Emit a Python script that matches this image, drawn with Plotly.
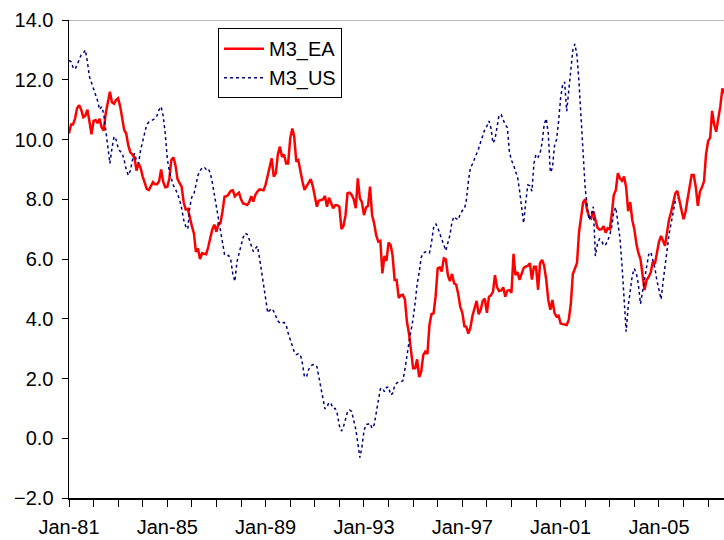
import pandas as pd
import plotly.graph_objects as go

# M3 growth, euro area (monthly, from Jan 1981)
ea_values = (
    [10.2, 10.5, 10.5, 10.7, 11.05, 11.15, 11.0, 10.75, 10.8, 11.0, 10.6, 10.17]      # 1981
    + [10.62, 10.65, 10.55, 10.69, 10.4, 10.3, 10.88, 11.2, 11.6, 11.25, 11.2, 11.32]  # 1982
    + [11.38, 11.1, 10.76, 10.32, 10.2, 9.8, 9.57, 9.5, 9.38, 8.96, 9.2, 9.05]        # 1983
    + [8.76, 8.52, 8.35, 8.31, 8.45, 8.57, 8.5, 8.5, 8.6, 9.0, 8.58, 8.4]             # 1984
    + [8.42, 8.7, 9.31, 9.4, 9.15, 8.68, 8.55, 8.42, 7.9, 7.66, 7.68, 7.35]           # 1985
    + [7.1, 6.85, 6.24, 6.35, 6.0, 6.19, 6.18, 6.16, 6.41, 6.75, 7.0, 7.15]           # 1986
    + [6.91, 7.2, 7.2, 7.6, 8.09, 8.1, 8.17, 8.28, 8.3, 8.1, 8.15, 8.22]              # 1987
    + [8.0, 7.86, 7.84, 7.81, 7.9, 8.1, 7.92, 8.15, 8.26, 8.33, 8.32, 8.3]            # 1988
    + [8.5, 8.78, 9.0, 9.37, 8.76, 8.87, 9.5, 9.76, 9.42, 9.5, 9.2, 9.2]              # 1989
    + [10.04, 10.37, 10.09, 9.26, 9.31, 8.9, 8.6, 8.31, 8.45, 8.55, 8.67, 8.45]       # 1990
    + [8.1, 7.75, 7.95, 7.97, 7.99, 8.11, 7.75, 8.05, 7.9, 7.7, 7.8, 7.8]             # 1991
    + [7.75, 7.0, 7.1, 7.45, 8.2, 8.22, 8.15, 8.0, 7.7, 8.7, 8.03, 7.9]               # 1992
    + [7.47, 7.73, 7.77, 8.42, 7.47, 7.19, 6.8, 6.58, 6.61, 5.52, 6.1, 5.94]          # 1993
    + [6.55, 6.47, 6.13, 5.3, 5.3, 4.7, 4.78, 4.8, 4.65, 3.9, 3.5, 3.0]               # 1994
    + [2.34, 2.34, 2.64, 2.05, 2.23, 2.79, 2.9, 2.82, 3.8, 4.16, 4.18, 4.74]          # 1995
    + [5.69, 5.72, 5.58, 6.02, 5.99, 5.45, 5.26, 5.5, 5.19, 5.14, 4.83, 4.4]          # 1996
    + [4.2, 3.75, 3.73, 3.5, 3.7, 4.1, 4.4, 4.6, 4.15, 4.3, 4.6, 4.67]                # 1997
    + [4.2, 4.74, 4.78, 4.9, 5.46, 5.05, 4.93, 4.95, 5.05, 4.74, 4.94, 4.96]          # 1998
    + [4.87, 6.17, 5.46, 5.56, 5.3, 5.55, 5.7, 5.75, 5.77, 5.86, 5.31, 5.74]          # 1999
    + [5.74, 4.97, 5.86, 5.97, 5.77, 5.3, 4.63, 4.3, 4.63, 4.2, 4.07, 4.1]            # 2000
    + [3.84, 3.82, 3.8, 3.79, 3.96, 4.5, 5.5, 5.66, 5.87, 6.9, 7.45, 7.9]             # 2001
    + [8.0, 7.6, 7.42, 7.36, 7.6, 7.3, 7.05, 6.98, 7.0, 7.1, 6.88, 7.03]              # 2002
    + [7.0, 7.53, 8.14, 8.3, 8.87, 8.7, 8.62, 8.76, 8.4, 7.6, 7.9, 7.3]               # 2003
    + [7.0, 6.5, 6.2, 6.0, 5.5, 4.96, 5.3, 5.4, 5.55, 5.9, 5.83, 6.2]                 # 2004
    + [6.58, 6.77, 6.58, 6.44, 6.9, 7.33, 7.58, 7.9, 8.2, 8.28, 8.0, 7.64]            # 2005
    + [7.33, 7.6, 8.0, 8.5, 8.81, 8.81, 8.42, 7.78, 8.25, 8.4, 8.6, 9.5]              # 2006
    + [9.95, 10.06, 10.96, 10.5, 10.26, 10.7, 11.1, 11.71, 11.55]                     # 2007
)

# M3 growth, United States (monthly, from Jan 1981)
us_values = (
    [12.65, 12.6, 12.42, 12.35, 12.5, 12.7, 12.83, 12.88, 13.0, 12.6, 12.1, 11.9]     # 1981
    + [11.7, 11.45, 11.3, 11.0, 11.1, 10.85, 10.3, 9.75, 9.2, 9.7, 10.1, 10.0]        # 1982
    + [9.72, 9.6, 9.55, 9.31, 9.0, 8.8, 8.95, 9.3, 9.54, 9.3, 9.2, 9.65]              # 1983
    + [9.95, 10.28, 10.5, 10.58, 10.62, 10.66, 10.7, 10.8, 11.0, 11.1, 10.78, 10.2]   # 1984
    + [9.35, 8.92, 8.72, 8.46, 8.35, 8.2, 8.0, 7.7, 7.31, 7.1, 7.0, 7.75]             # 1985
    + [8.08, 8.18, 8.5, 8.8, 8.95, 9.05, 9.08, 9.0, 9.03, 8.88, 8.55, 8.15]           # 1986
    + [7.83, 7.35, 7.05, 6.5, 6.15, 6.1, 6.12, 5.98, 5.5, 5.25, 5.9, 6.17]            # 1987
    + [6.5, 6.72, 6.86, 6.83, 6.66, 6.47, 6.25, 6.35, 6.43, 6.05, 5.6, 5.25]          # 1988
    + [4.8, 4.2, 4.28, 4.34, 4.25, 4.1, 3.93, 3.85, 3.85, 3.88, 3.8, 3.52]            # 1989
    + [3.32, 3.13, 2.9, 2.8, 2.83, 2.8, 2.5, 2.05, 2.06, 2.3, 2.42, 2.46]             # 1990
    + [2.47, 2.4, 2.05, 1.72, 1.3, 0.98, 1.05, 1.2, 1.15, 1.0, 1.0, 0.82]             # 1991
    + [0.42, 0.24, 0.38, 0.6, 0.88, 0.95, 0.9, 0.6, 0.3, -0.15, -0.65, -0.3]          # 1992
    + [0.25, 0.47, 0.47, 0.5, 0.33, 0.45, 0.85, 1.25, 1.65, 1.68, 1.56, 1.7]          # 1993
    + [1.72, 1.45, 1.5, 1.75, 1.85, 1.88, 1.89, 1.92, 2.3, 2.8, 3.22, 3.6]            # 1994
    + [4.0, 4.55, 5.15, 5.55, 6.05, 6.2, 6.24, 6.2, 6.2, 6.55, 7.05, 7.18]            # 1995
    + [7.06, 6.85, 6.65, 6.45, 6.28, 6.55, 6.8, 7.25, 7.42, 7.35, 7.31, 7.5]          # 1996
    + [7.62, 7.68, 7.95, 8.6, 9.05, 9.18, 9.35, 9.5, 9.7, 9.92, 10.1, 10.34]          # 1997
    + [10.45, 10.62, 10.4, 9.88, 10.0, 10.45, 10.82, 10.83, 10.65, 10.49, 10.4, 9.6]  # 1998
    + [9.3, 9.15, 8.94, 8.75, 8.3, 7.78, 7.2, 7.9, 8.48, 8.45, 8.27, 9.2]             # 1999
    + [9.5, 9.41, 9.54, 9.9, 10.5, 10.7, 10.2, 8.9, 9.05, 9.78, 10.0, 10.6]           # 2000
    + [11.4, 11.85, 11.93, 10.95, 11.6, 12.2, 13.0, 13.2, 12.8, 11.9, 10.65, 9.5]     # 2001
    + [8.35, 7.75, 7.3, 7.5, 7.75, 6.1, 6.5, 6.67, 6.62, 6.45, 6.48, 6.62]            # 2002
    + [6.8, 7.1, 7.58, 7.73, 7.3, 6.7, 5.8, 4.8, 3.57, 4.4, 5.0, 5.45]                # 2003
    + [5.68, 5.5, 5.15, 4.5, 4.9, 5.3, 5.8, 6.15, 6.23, 6.0, 5.7, 5.28]               # 2004
    + [4.95, 4.65, 5.2, 5.74, 6.4, 6.85, 7.2, 7.6, 7.95, 8.03]                        # 2005
)

start_month = "1981-01-01"
ea_dates = pd.date_range(start_month, periods=len(ea_values), freq="MS")
us_dates = pd.date_range(start_month, periods=len(us_values), freq="MS")

series_names = ["M3_EA", "M3_US"]
y_ticks = [-2, 0, 2, 4, 6, 8, 10, 12, 14]

FONT = "Liberation Sans, Arial, sans-serif"

fig = go.Figure()
fig.add_trace(go.Scatter(
    x=ea_dates, y=ea_values, name=series_names[0], mode="lines",
    line=dict(color="#FF0000", width=2.5),
))
fig.add_trace(go.Scatter(
    x=us_dates, y=us_values, name=series_names[1], mode="lines",
    line=dict(color="#000080", width=1.5, dash="dot"),
))

# top border of plot area (gray)
fig.add_shape(type="line", xref="paper", yref="y", x0=0, x1=1, y0=14, y1=14,
              line=dict(color="#A0A0A0", width=1.5), layer="below")

fig.update_layout(
    width=724, height=540,
    margin=dict(l=69, r=0, t=20, b=42, autoexpand=False),
    paper_bgcolor="white", plot_bgcolor="white",
    font=dict(family=FONT, size=20, color="black"),
    showlegend=True,
    legend=dict(
        x=0.2275, y=0.983, xanchor="left", yanchor="top",
        bgcolor="white", bordercolor="black", borderwidth=1,
        font=dict(family=FONT, size=20, color="black"),
        tracegroupgap=0, itemwidth=40,
    ),
    xaxis=dict(
        type="date",
        range=["1981-01-01", "2007-08-25"],
        tick0="1981-01-01", dtick="M48", tickformat="%b-%y",
        ticks="outside", ticklen=7, tickcolor="black", tickwidth=1,
        ticklabelstandoff=3,
        showline=True, linecolor="black", linewidth=1.5,
        showgrid=False, zeroline=False,
        minor=dict(dtick="M12", ticks="outside", ticklen=7, tickcolor="black", showgrid=False),
        tickfont=dict(family=FONT, size=20, color="black"),
    ),
    yaxis=dict(
        range=[-2, 14], tickvals=y_ticks, tickformat=".1f",
        ticks="outside", ticklen=6, tickcolor="black", tickwidth=1,
        ticklabelstandoff=4,
        showline=True, linecolor="black", linewidth=1.5,
        showgrid=False, zeroline=False,
        tickfont=dict(family=FONT, size=20, color="black"),
    ),
)

# remove the browser's default page margin so the 724x540 figure fills the window
page_fit = ("document.body.style.margin='0';"
            "document.documentElement.style.overflow='hidden';")

fig.write_html("out.html", post_script=page_fit,
               config={"displayModeBar": False, "staticPlot": True})
